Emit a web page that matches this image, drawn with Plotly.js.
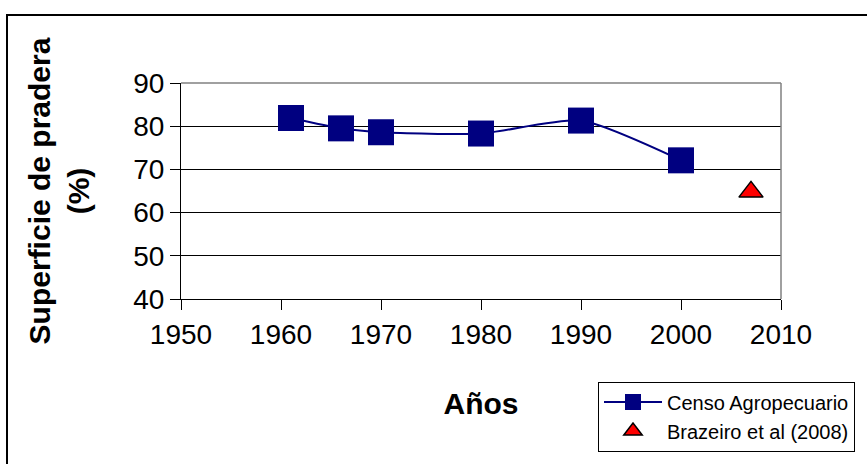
<!DOCTYPE html>
<html>
<head>
<meta charset="utf-8">
<script src="https://cdn.plot.ly/plotly-3.0.1.min.js"></script>
<style>
  html, body { margin: 0; padding: 0; background: #fff; }
  #chart { width: 867px; height: 464px; }
</style>
</head>
<body>
<div id="chart"></div>
<script>
const censoYears = [1961, 1966, 1970, 1980, 1990, 2000];
const censoValues = [81.9, 79.5, 78.6, 78.3, 81.3, 72.1];
const brazeiroYears = [2007];
const brazeiroValues = [64.8];
const xTicks = [1950, 1960, 1970, 1980, 1990, 2000, 2010];
const yTicks = [40, 50, 60, 70, 80, 90];

const font = 'Liberation Sans, Arial, sans-serif';

const traces = [
  {
    x: censoYears, y: censoValues, type: 'scatter', mode: 'lines+markers',
    name: 'Censo Agropecuario',
    line: { color: '#000080', width: 2, shape: 'spline', smoothing: 0.6 },
    marker: { symbol: 'square', size: 26, color: '#000080' }
  },
  {
    x: brazeiroYears, y: brazeiroValues, type: 'scatter', mode: 'markers',
    name: 'Brazeiro et al (2008)',
    marker: { symbol: 'triangle-up', size: 21, color: '#ff0000', line: { color: '#000000', width: 1.5 } }
  }
];

const layout = {
  width: 867, height: 464,
  margin: { l: 181, r: 86, t: 83, b: 156 },
  paper_bgcolor: '#ffffff', plot_bgcolor: '#ffffff',
  font: { family: font, color: '#000000' },
  showlegend: true,
  legend: {
    x: 0.695, y: -0.382, xanchor: 'left', yanchor: 'top',
    bgcolor: '#ffffff', bordercolor: '#000000', borderwidth: 1,
    font: { family: font, size: 20, color: '#000000' },
    itemwidth: 58,
    tracegroupgap: 0
  },
  xaxis: {
    range: [1950, 2010], tickvals: xTicks, ticktext: xTicks.map(String),
    showgrid: false, zeroline: false,
    showline: true, linecolor: '#000000', linewidth: 1,
    ticks: 'outside', ticklen: 10, tickcolor: '#000000',
    tickfont: { family: font, size: 28, color: '#000000' },
    title: { text: '<b>Años</b>', font: { family: font, size: 30, color: '#000000' }, standoff: 44 },
    automargin: false
  },
  yaxis: {
    range: [40, 90], tickvals: yTicks, ticktext: yTicks.map(String),
    showgrid: true, gridcolor: '#000000', gridwidth: 1, zeroline: false,
    showline: true, linecolor: '#000000', linewidth: 1,
    ticks: 'outside', ticklen: 10, tickcolor: '#000000',
    tickfont: { family: font, size: 28, color: '#000000' },
    title: { text: '<b>Superficie de pradera<br>(%)</b>', font: { family: font, size: 30, color: '#000000' }, standoff: 34 },
    automargin: false
  },
  shapes: [
    { type: 'line', xref: 'paper', yref: 'paper', x0: 0, x1: 1, y0: 1, y1: 1, line: { color: '#808080', width: 1.5 } },
    { type: 'line', xref: 'paper', yref: 'paper', x0: 1, x1: 1, y0: 0, y1: 1, line: { color: '#808080', width: 1.5 } },
    { type: 'rect', xref: 'paper', yref: 'paper', x0: -0.29, x1: 1.3, y0: -0.9, y1: 1.315, line: { color: '#000000', width: 2 }, layer: 'below' }
  ]
};

Plotly.newPlot('chart', traces, layout, { displayModeBar: false, staticPlot: true });
</script>
</body>
</html>
